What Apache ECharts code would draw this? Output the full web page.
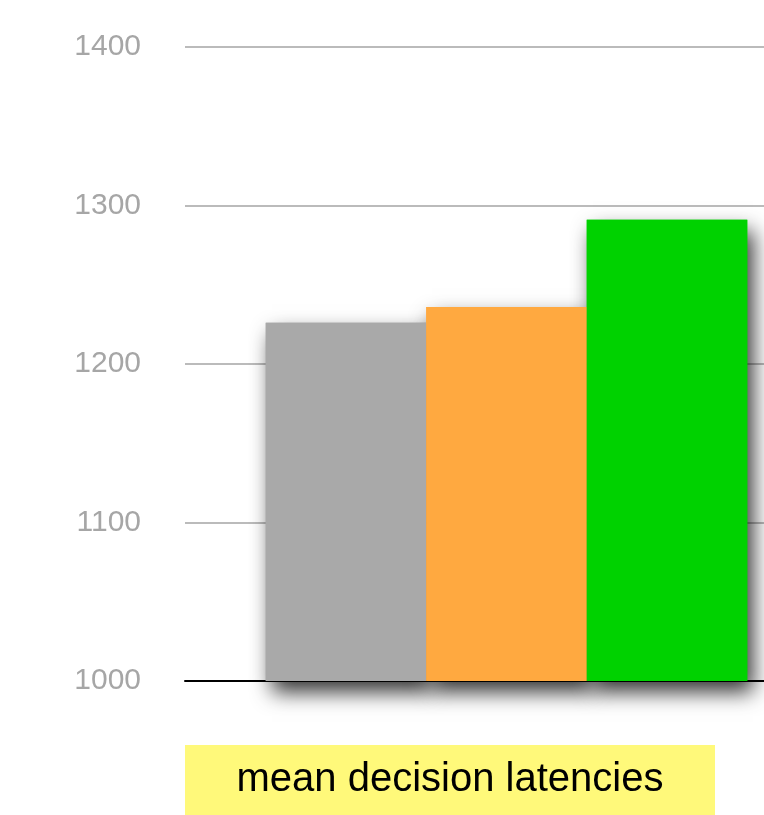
<!DOCTYPE html>
<html>
<head>
<meta charset="utf-8">
<script src="https://cdn.jsdelivr.net/npm/echarts@6/dist/echarts.min.js"></script>
<style>
html,body{margin:0;padding:0;background:#fff;overflow:hidden;width:764px;height:815px;}
#main{width:828px;height:815px;}
</style>
</head>
<body>
<div id="main"></div>
<script>
var categories = ['mean decision latencies'];
var seriesNames = ['A', 'B', 'C'];
var seriesValues = [[1226], [1236], [1291]];
var seriesColors = ['#a9a9a9', '#ffa940', '#00d200'];
var yTicks = [1000, 1100, 1200, 1300, 1400];

var chart = echarts.init(document.getElementById('main'));
var series = [];
// shadow layer
seriesValues.forEach(function (vals, i) {
  series.push({
    name: seriesNames[i] + '-shadow',
    type: 'bar',
    xAxisIndex: 0,
    data: vals,
    barWidth: 160.5,
    barGap: '0%',
    silent: true,
    z: 1,
    itemStyle: {
      color: seriesColors[i],
      shadowBlur: 20,
      shadowOffsetX: 6,
      shadowOffsetY: 11,
      shadowColor: 'rgba(0,0,0,0.8)'
    }
  });
});
// bar layer
seriesValues.forEach(function (vals, i) {
  series.push({
    name: seriesNames[i],
    type: 'bar',
    xAxisIndex: 1,
    data: vals,
    barWidth: 160.5,
    barGap: '0%',
    z: 3,
    itemStyle: { color: seriesColors[i] }
  });
});

chart.setOption({
  animation: false,
  backgroundColor: '#ffffff',
  grid: { left: 185, right: 0, top: 47, bottom: 134, containLabel: false },
  xAxis: [
    { type: 'category', data: categories, axisLine: { show: true, lineStyle: { color: '#000', width: 2 } },
      axisTick: { show: false }, axisLabel: { show: false }, splitLine: { show: false } },
    { type: 'category', data: categories, axisLine: { show: false }, position: 'bottom',
      axisTick: { show: false }, axisLabel: { show: false }, splitLine: { show: false } }
  ],
  yAxis: {
    type: 'value',
    min: yTicks[0],
    max: yTicks[yTicks.length - 1],
    interval: yTicks[1] - yTicks[0],
    axisLine: { show: false },
    axisTick: { show: false },
    axisLabel: {
      color: '#a6a6a6',
      fontSize: 30,
      fontFamily: 'Liberation Sans, Arial, Helvetica, sans-serif',
      margin: 44,
      formatter: function (v) { return String(v); }
    },
    splitLine: { lineStyle: { color: '#bbbbbb', width: 2 } }
  },
  graphic: [
    {
      type: 'rect',
      left: 185, top: 745,
      shape: { width: 530, height: 70 },
      style: { fill: '#fff97a' },
      z: 10
    },
    {
      type: 'text',
      x: 450, y: 780,
      style: {
        text: categories[0],
        fill: '#000',
        fontSize: 40,
        fontFamily: 'Liberation Sans, Arial, Helvetica, sans-serif',
        align: 'center',
        verticalAlign: 'middle'
      },
      z: 11
    }
  ],
  series: series
});
</script>
</body>
</html>
